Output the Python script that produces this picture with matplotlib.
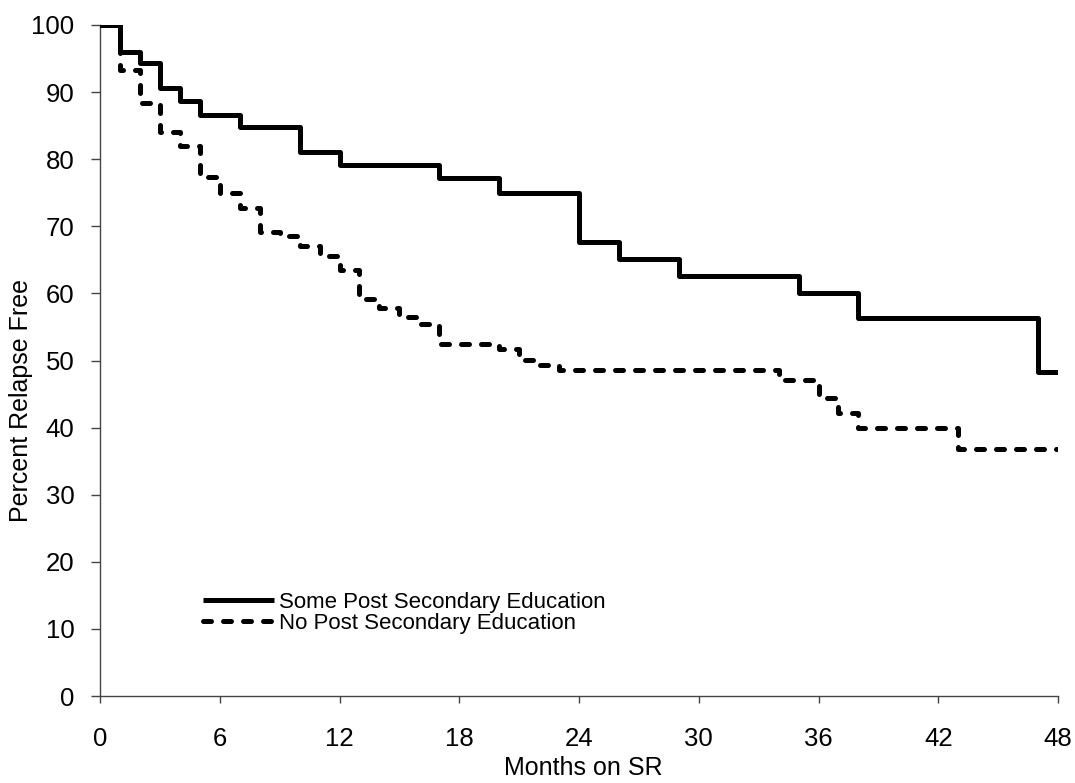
import numpy as np
import matplotlib
matplotlib.use('Agg')
import matplotlib.pyplot as plt

plt.rcParams['font.family'] = ['Liberation Sans', 'DejaVu Sans']

# Kaplan-Meier style step data
some_months = [0, 1, 2, 3, 4, 5, 7, 10, 12, 17, 20, 24, 26, 29, 35, 38, 47, 48]
some_pct = [100, 96.0, 94.4, 90.6, 88.6, 86.6, 84.8, 81.0, 79.1, 77.2, 74.9,
            67.7, 65.1, 62.6, 60.0, 56.3, 48.3, 48.3]

none_months = [0, 1, 2, 3, 4, 5, 6, 7, 8, 9, 10, 11, 12, 13, 14, 15, 16, 17,
               20, 21, 22, 23, 34, 36, 37, 38, 43, 48]
none_pct = [100, 93.3, 88.4, 84.1, 82.0, 77.4, 74.9, 72.7, 69.1, 68.5, 67.1,
            65.6, 63.5, 59.1, 57.8, 56.5, 55.5, 52.5, 51.7, 50.1, 49.4, 48.6,
            47.1, 44.4, 42.2, 39.9, 36.8, 36.8]

x_ticks = np.arange(0, 49, 6)
y_ticks = np.arange(0, 101, 10)

fig = plt.figure(figsize=(10.75, 7.83), dpi=100)
ax = fig.add_axes([100/1075, 87/783, 958/1075, 671/783])

ax.plot(some_months, some_pct, drawstyle='steps-post', color='black',
        lw=3.6, solid_capstyle='butt', label='Some Post Secondary Education')
ax.plot(none_months, none_pct, drawstyle='steps-post', color='black',
        lw=3.6, dashes=(1.6, 2.4), dash_capstyle='round',
        label='No Post Secondary Education')

ax.set_xlim(0, 48)
ax.set_ylim(0, 100)
ax.set_xticks(x_ticks)
ax.set_yticks(y_ticks)
ax.tick_params(axis='y', direction='out', length=6.5, width=1, pad=12,
               labelsize=18.5, color='#444444')
ax.tick_params(axis='x', direction='out', length=5, width=1, pad=17,
               labelsize=18.5, color='#444444')

for side in ['top', 'right']:
    ax.spines[side].set_visible(False)
for side in ['left', 'bottom']:
    ax.spines[side].set_color('#444444')
    ax.spines[side].set_linewidth(1)
    ax.spines[side].set_zorder(0)

ax.set_xlabel('Months on SR', fontsize=18)
ax.set_ylabel('Percent Relapse Free', fontsize=18)
ax.xaxis.set_label_coords(0.504, -0.09)
ax.yaxis.set_label_coords(-0.07, 0.44)

ax.legend(loc='center left', bbox_to_anchor=(0.1075, 0.124), frameon=False,
          fontsize=16, handlelength=3.2, handletextpad=0.22,
          labelspacing=0.0, borderpad=0, borderaxespad=0)

plt.savefig('out.png', dpi=100)
